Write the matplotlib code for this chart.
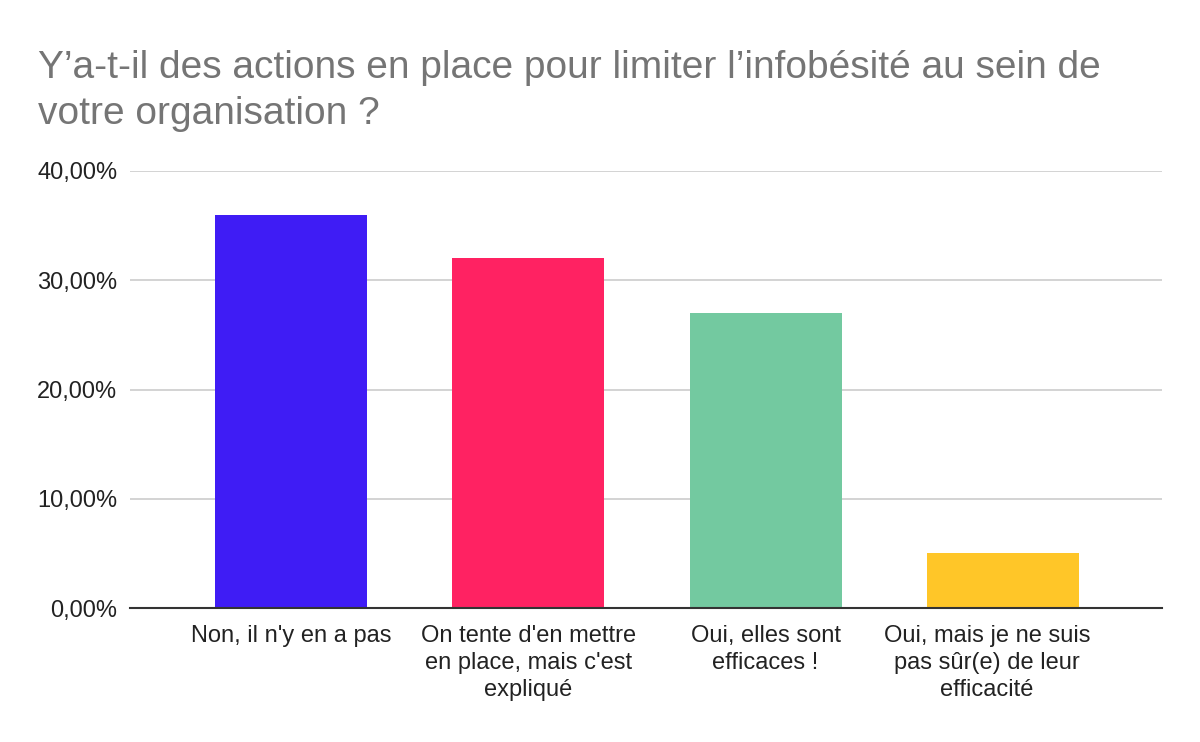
import matplotlib.pyplot as plt
import matplotlib.transforms as mtransforms
from matplotlib.ticker import FuncFormatter

categories = ["Non, il n'y en a pas",
              "On tente d'en mettre\nen place, mais c'est\nexpliqué",
              "Oui, elles sont\nefficaces !",
              "Oui, mais je ne suis\npas sûr(e) de leur\nefficacité"]
values = [0.36, 0.32, 0.27, 0.05]
colors = ["#3f1cf5", "#ff2262", "#73c9a0", "#ffc628"]
yticks = [0, 0.1, 0.2, 0.3, 0.4]

plt.rcParams['font.family'] = ['Liberation Sans', 'DejaVu Sans']

fig = plt.figure(figsize=(12, 7.42), dpi=100)
ax = fig.add_axes([130 / 1200, 1 - 608 / 742, 1032 / 1200, 437 / 742])

x = list(range(len(categories)))
ax.bar(x, values, width=0.64, color=colors, zorder=3)

ax.set_xlim(-0.678, 3.67)
ax.set_ylim(0, 0.4)
ax.set_yticks(yticks)
ax.yaxis.set_major_formatter(FuncFormatter(lambda v, p: f"{v * 100:.2f}%".replace('.', ',')))
ax.set_xticks(x)
ax.set_xticklabels(categories, fontsize=17, color='#222222', va='top', linespacing=1.3)
ax.tick_params(axis='y', labelsize=17, labelcolor='#222222', length=0, pad=9)
ax.tick_params(axis='x', length=0, pad=12)

# last label sits slightly left of its bar in the original
lbl = ax.get_xticklabels()[-1]
lbl.set_transform(lbl.get_transform() + mtransforms.ScaledTranslation(-16 / 100, 0, fig.dpi_scale_trans))

ax.grid(axis='y', color='#cccccc', linewidth=1.2, zorder=0)
for s in ['top', 'right', 'left']:
    ax.spines[s].set_visible(False)
ax.spines['bottom'].set_color('#333333')
ax.spines['bottom'].set_linewidth(1.5)
ax.spines['bottom'].set_zorder(4)

fig.text(38 / 1200, 1 - 50 / 742,
         "Y’a-t-il des actions en place pour limiter l’infobésité au sein de\nvotre organisation ?",
         fontsize=28, color='#757575', ha='left', va='top', linespacing=1.35)

fig.savefig("out.png", dpi=100)
